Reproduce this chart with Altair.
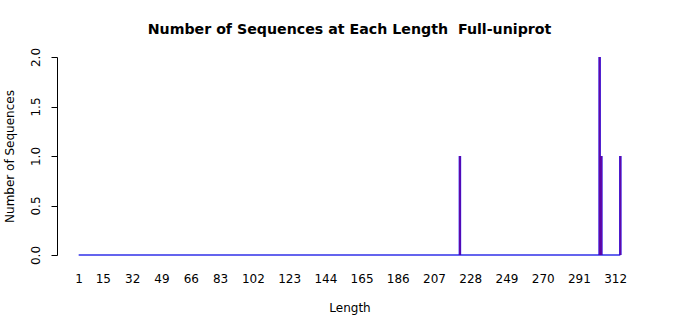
import altair as alt
import pandas as pd

# Data
spike_lengths = [222, 303, 304, 315]
spike_counts = [1, 2, 1, 1]
length_range = [1, 315]
x_tick_labels = [1, 15, 32, 49, 66, 83, 102, 123, 144, 165, 186, 207, 228, 249, 270, 291, 312]
y_ticks = [0, 0.5, 1, 1.5, 2]

df = pd.DataFrame({"Length": spike_lengths, "Count": spike_counts})
base_df = pd.DataFrame({"start": [length_range[0]], "end": [length_range[1]], "zero": [0]})

FONT = "DejaVu Sans"
xscale = alt.Scale(domain=[-11.56, 327.56], nice=False, zero=False)
yscale = alt.Scale(domain=[0, 2], nice=False, zero=False)

xaxis = alt.Axis(
    values=x_tick_labels, domain=False, ticks=False, tickSize=0, grid=False,
    labelPadding=18, labelFont=FONT, labelFontSize=12, labelColor="black",
    labelFlush=False, labelOverlap=False,
    title="Length", titleFont=FONT, titleFontSize=12, titleFontWeight="normal",
    titleColor="black", titleY=52, titleBaseline="middle",
)
yaxis = alt.Axis(
    values=y_ticks, format=".1f", grid=False, domainColor="black", domainWidth=1,
    tickColor="black", tickSize=6, labelAngle=270, labelAlign="center",
    labelBaseline="bottom", labelPadding=9, labelFont=FONT, labelFontSize=12,
    labelColor="black",
    title="Number of Sequences", titleFont=FONT, titleFontSize=12,
    titleFontWeight="normal", titleColor="black", titleAngle=270,
    titleX=-48, titleY=99, titleAlign="center", titleBaseline="middle",
)

baseline = alt.Chart(base_df).mark_rule(color="#3030e8", strokeWidth=1.5).encode(
    x=alt.X("start:Q", scale=xscale, axis=xaxis),
    x2="end:Q",
    y=alt.Y("zero:Q", scale=yscale, axis=yaxis),
)

blue = alt.Chart(df).mark_rule(color="#0000ff", strokeWidth=2.5, opacity=0.95).encode(
    x=alt.X("Length:Q", scale=xscale, axis=xaxis),
    y=alt.Y("Count:Q", scale=yscale, axis=yaxis),
    y2=alt.datum(0),
)

red = alt.Chart(df).mark_rule(color="#ff0000", strokeWidth=1.8, opacity=0.35).encode(
    x=alt.X("Length:Q", scale=xscale, axis=xaxis),
    y=alt.Y("Count:Q", scale=yscale, axis=yaxis),
    y2=alt.datum(0),
)

chart = (baseline + blue + red).properties(
    width=585,
    height=198,
    background="white",
    title=alt.TitleParams(
        "Number of Sequences at Each Length \u00a0Full-uniprot",
        font=FONT, fontSize=14.2, fontWeight="bold", color="black",
        anchor="middle", baseline="alphabetic", offset=0, dy=1,
    ),
    autosize=alt.AutoSizeParams(type="none"),
    padding={"left": 57, "top": 57, "right": 58, "bottom": 60},
).configure_view(strokeWidth=0).configure_axisX(labelOverlap=False)

chart.save("out.html", embed_options={"renderer": "svg", "actions": False})
